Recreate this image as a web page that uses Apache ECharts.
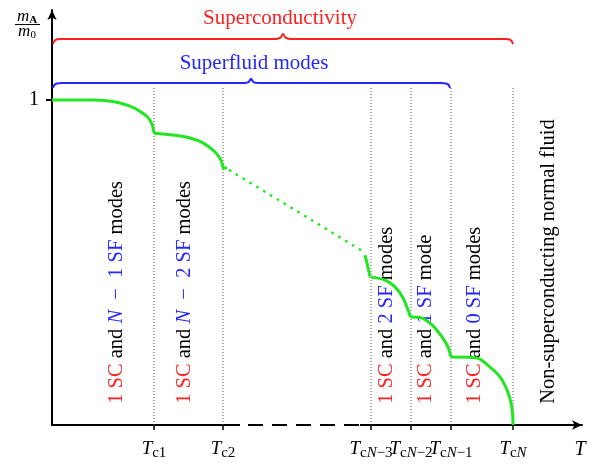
<!DOCTYPE html>
<html><head><meta charset="utf-8">
<script src="https://cdn.jsdelivr.net/npm/echarts@6/dist/echarts.min.js"></script>
<style>html,body{margin:0;padding:0;background:#fff}#c{width:597px;height:466px}</style>
</head><body><div id="c"></div>
<script>
// ---- data (x: temperature in arbitrary units, y: m_A / m_0) ----
const tcValues = [102, 171, 319, 359, 399, 461];
const tcTickLabels = ['{t|T}{s|c1}', '{t|T}{s|c2}', '{t|T}{s|c}{si|N}{s|−3}', '{t|T}{s|c}{si|N}{s|−2}', '{t|T}{s|c}{si|N}{s|−1}', '{t|T}{s|c}{si|N}'];
const yTickValues = [1];
const yTickLabels = ['1'];

const curveSeg1 = [[0,1.0],[40,1.0],[55,0.998],[65,0.993],[78,0.981],[88,0.965],[96,0.946],[100,0.926],[101.6,0.906],[102,0.898]];
const curveSeg2 = [[102,0.898],[121,0.892],[138,0.883],[151,0.868],[163,0.840],[169,0.815],[170.8,0.795],[171,0.791],[175,0.791]];
const curveSeg3 = [[313,0.523],[315,0.498],[317,0.470],[318.5,0.455],[319,0.455]];
const curveSeg4 = [[319,0.455],[333,0.446],[343,0.425],[351,0.391],[356,0.354],[358.2,0.335],[359,0.332]];
const curveSeg5 = [[359,0.332],[370,0.329],[380,0.308],[390,0.271],[396,0.240],[398.5,0.215],[399,0.209]];
const curveSeg6 = [[399,0.209],[425,0.206],[438,0.178],[448,0.148],[455,0.108],[459,0.068],[460.7,0.03],[461,0]];
const curveDotted = [[177,0.785],[309,0.538]];
const dottedTop = 1.037;

const braceSC = [[1,1.172],[2.5,1.182],[5,1.187],[10,1.188],[224,1.188],[228.5,1.192],[231,1.203],[233.5,1.192],[238,1.188],[452,1.188],[457,1.187],[459.5,1.182],[461,1.172]];
const braceSF = [[1,1.037],[2.5,1.047],[5,1.051],[10,1.052],[192,1.052],[196.5,1.055],[199,1.065],[201.5,1.055],[206,1.052],[389,1.052],[394,1.051],[396.5,1.047],[398,1.037]];

const axisGap = [188, 308];

const modeLabels = [
  {x: 65,  text: '{r|1 SC} and {bi|N}\u2002{b|−\u20021 SF} modes'},
  {x: 133, text: '{r|1 SC} and {bi|N}\u2002{b|−\u20022 SF} modes'},
  {x: 335, text: '{r|1 SC} and {b|2 SF} modes'},
  {x: 374, text: '{r|1 SC} and {b|1 SF} mode'},
  {x: 423, text: '{r|1 SC} and {b|0 SF} modes'},
  {x: 497, text: 'Non-superconducting normal fluid'}
];
const labelBottom = 0.065;

// ---- styles ----
const SERIF = '"Liberation Serif", "Times New Roman", serif';
const GREEN = '#22e622', RED = '#ff2020', BLUE = '#2626ff';
const FS = 20.5;

const chart = echarts.init(document.getElementById('c'));

const series = [];
tcValues.forEach(v => series.push({
  type: 'line', data: [[v, 0], [v, dottedTop]], symbol: 'none', silent: true, z: 1,
  lineStyle: {color: '#555', width: 1, type: [1, 2]}
}));
series.push({type:'line', data: braceSC, symbol:'none', smooth:0.3, lineStyle:{color:RED, width:2}, z:3});
series.push({type:'line', data: braceSF, symbol:'none', smooth:0.3, lineStyle:{color:BLUE, width:2}, z:3});
series.push({type:'line', data: [[axisGap[0],0],[axisGap[1],0]], symbol:'none', clip:false, lineStyle:{color:'#fff', width:5}, z:4});
series.push({type:'line', data: [[axisGap[0]+8,0],[axisGap[1],0]], symbol:'none', clip:false, lineStyle:{color:'#000', width:2, type:[15,9]}, z:5});
[curveSeg1, curveSeg2, curveSeg3, curveSeg4, curveSeg5, curveSeg6].forEach(seg => series.push({
  type:'line', data: seg, symbol:'none', smooth:0.3, clip:false, lineStyle:{color:GREEN, width:3, join:'round'}, z:6
}));
series.push({type:'line', data: curveDotted, symbol:'none', lineStyle:{color:GREEN, width:2.5, type:[2.5,5.5]}, z:6});

const option = {
  animation: false,
  grid: {left: 52, right: 15, top: 10, bottom: 41},
  xAxis: {
    type: 'value', min: 0, max: 530,
    axisLine: {show: true, onZero: false, lineStyle: {color: '#000', width: 2}, symbol: ['none', 'arrow'], symbolSize: [7, 10]},
    axisTick: {show: true, customValues: tcValues, length: 5, lineStyle: {color: '#000', width: 1.5}},
    axisLabel: {
      show: true, customValues: tcValues, margin: 11,
      formatter: v => tcTickLabels[tcValues.indexOf(v)],
      rich: {
        t: {fontSize: 19, fontStyle: 'italic', fontFamily: SERIF, color: '#000'},
        s: {fontSize: 15, fontFamily: SERIF, color: '#000', padding: [10, 0, 0, 0]},
        si: {fontSize: 15, fontStyle: 'italic', fontFamily: SERIF, color: '#000', padding: [10, 0, 0, 0]}
      }
    },
    splitLine: {show: false}
  },
  yAxis: {
    type: 'value', min: 0, max: 1.2769,
    axisLine: {show: true, lineStyle: {color: '#000', width: 2}, symbol: ['none', 'arrow'], symbolSize: [7, 10]},
    axisTick: {show: true, customValues: yTickValues, length: 6, lineStyle: {color: '#000', width: 2}},
    axisLabel: {show: true, customValues: yTickValues, margin: 13, formatter: v => yTickLabels[yTickValues.indexOf(v)],
      fontSize: 20, fontFamily: SERIF, color: '#000'},
    splitLine: {show: false}
  },
  series: series
};
chart.setOption(option);

const P = (x, y) => chart.convertToPixel({gridIndex: 0}, [x, y]);
const graphics = [];
const richStyles = {
  r: {fill: RED, fontSize: FS, fontFamily: SERIF},
  b: {fill: BLUE, fontSize: FS, fontFamily: SERIF},
  bi: {fill: BLUE, fontSize: FS, fontFamily: SERIF, fontStyle: 'italic'}
};
modeLabels.forEach(l => {
  const p = P(l.x, labelBottom);
  graphics.push({type: 'text', x: p[0], y: p[1], rotation: Math.PI / 2,
    style: {text: l.text, rich: richStyles, fill: '#000', fontSize: FS, fontFamily: SERIF, align: 'left', verticalAlign: 'middle'}});
});
let p = P(228, 1.252);
graphics.push({type:'text', x:p[0], y:p[1], style:{text:'Superconductivity', fill:RED, fontSize:21, fontFamily:SERIF, align:'center', verticalAlign:'middle'}});
p = P(202, 1.111);
graphics.push({type:'text', x:p[0], y:p[1], style:{text:'Superfluid modes', fill:BLUE, fontSize:21, fontFamily:SERIF, align:'center', verticalAlign:'middle'}});
// axis names
graphics.push({type:'text', x:580, y:450, style:{text:'T', fill:'#000', fontSize:20, fontStyle:'italic', fontFamily:SERIF, align:'center', verticalAlign:'middle'}});
graphics.push({type:'text', x:27, y:17, style:{text:'{m|m}{a|A}', rich:{m:{fontSize:17, fontStyle:'italic', fontFamily:SERIF, fill:'#000'}, a:{fontSize:11, fontWeight:'bold', fontFamily:SERIF, fill:'#000', padding:[6,0,0,0]}}, align:'center', verticalAlign:'middle'}});
graphics.push({type:'line', shape:{x1:15, y1:24.5, x2:40, y2:24.5}, style:{stroke:'#000', lineWidth:1}});
graphics.push({type:'text', x:27, y:32, style:{text:'{m|m}{z|0}', rich:{m:{fontSize:17, fontStyle:'italic', fontFamily:SERIF, fill:'#000'}, z:{fontSize:11, fontFamily:SERIF, fill:'#000', padding:[7,0,0,0]}}, align:'center', verticalAlign:'middle'}});
chart.setOption({graphic: graphics});
</script></body></html>
